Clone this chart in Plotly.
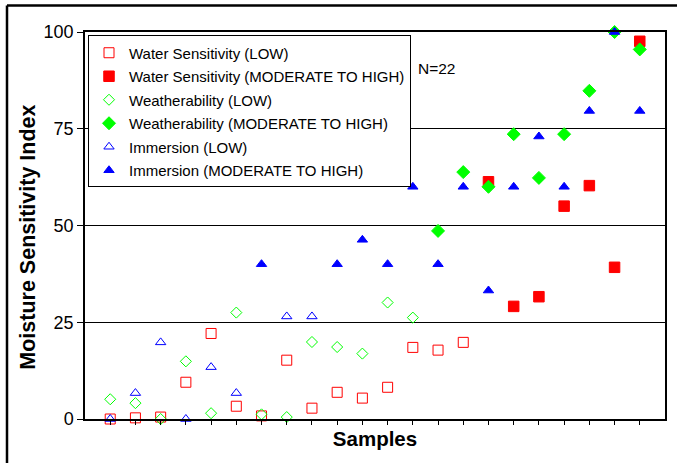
import plotly.graph_objects as go

samples = list(range(1, 23))

# Water Sensitivity values per sample (LOW for samples 1-15, MODERATE TO HIGH for 16-22)
ws_low = [0, 0.3, 0.5, 9.5, 22.1, 3.3, 0.8, 15.2, 2.8, 6.9, 5.4, 8.2, 18.5, 17.8, 19.8,
          None, None, None, None, None, None, None]
ws_high = [None] * 15 + [61.3, 29.1, 31.6, 55.0, 60.3, 39.2, 97.6]

# Weatherability
wx_low = [5.1, 4.1, 0, 14.9, 1.5, 27.5, 1.2, 0.5, 19.9, 18.6, 16.9, 30.1, 26.2,
          None, None, None, None, None, None, None, None, None]
wx_high = [None] * 13 + [48.6, 63.8, 60.0, 73.6, 62.3, 73.6, 84.8, 100, 95.5]

# Immersion
im_low = [0, 6.7, 19.8, 0, 13.4, 6.7, None, 26.5, 26.5, None, None, None, None,
          None, None, None, None, None, None, None, None, None]
im_high = [None, None, None, None, None, None, 40, None, None, 40, 46.3, 40, 60,
           40, 60, 33.2, 60, 73.0, 60, 79.6, 100, 79.6]

y_ticks = [0, 25, 50, 75, 100]

RED, GREEN, BLUE = "#FF0000", "#00FF00", "#0000FF"

series = [
    ("Water Sensitivity (LOW)", ws_low, "square-open", RED, 10),
    ("Water Sensitivity (MODERATE TO HIGH)", ws_high, "square", RED, 10.5),
    ("Weatherability (LOW)", wx_low, "diamond-open", GREEN, 8.5),
    ("Weatherability (MODERATE TO HIGH)", wx_high, "diamond", GREEN, 10),
    ("Immersion (LOW)", im_low, "triangle-up-open", BLUE, 9),
    ("Immersion (MODERATE TO HIGH)", im_high, "triangle-up", BLUE, 9),
]

fig = go.Figure()
for i, (name, vals, sym, col, sz) in enumerate(series):
    fig.add_trace(go.Scatter(
        x=samples, y=vals, mode="markers", name=name, legendgroup=f"g{i}",
        marker=dict(symbol=sym, color=col, size=sz, line=dict(color=col, width=1)),
        cliponaxis=False,
    ))

FONT = "Liberation Sans, Arial, sans-serif"
L, R, T, B = 85, 12, 31.5, 44
W, H = 677, 463
pw, ph = W - L - R, H - T - B

def px_x(p):
    return (p - L) / pw

def px_y(p):
    return (H - B - p) / ph

fig.update_layout(
    width=W, height=H,
    margin=dict(l=L, r=R, t=T, b=B, pad=0),
    paper_bgcolor="white", plot_bgcolor="white",
    font=dict(family=FONT, color="black"),
    showlegend=True,
    legend=dict(
        x=px_x(88), y=px_y(35), xanchor="left", yanchor="top",
        bgcolor="white", bordercolor="black", borderwidth=1,
        font=dict(size=15, family=FONT, color="black"),
        tracegroupgap=1, itemwidth=30,
    ),
    xaxis=dict(
        range=[0, 23], tickvals=samples, showticklabels=False,
        ticks="outside", ticklen=4, tickcolor="black", tickwidth=1,
        showgrid=False, zeroline=False,
        showline=True, linecolor="black", linewidth=1.5, mirror=True,
        title=dict(text="<b>Samples</b>", font=dict(size=20.5, family=FONT), standoff=8),
        automargin=False,
    ),
    yaxis=dict(
        range=[0, 100], tickvals=y_ticks,
        ticks="outside", ticklen=6, tickcolor="black", tickwidth=1,
        tickfont=dict(size=18, family=FONT),
        showgrid=True, gridcolor="black", gridwidth=1, zeroline=False,
        showline=True, linecolor="black", linewidth=1.5, mirror=True,
        automargin=False,
    ),
    annotations=[
        dict(
            text="N=22", xref="paper", yref="paper", x=px_x(416), y=px_y(68),
            xanchor="left", yanchor="middle", showarrow=False,
            font=dict(size=15.5, family=FONT, color="black"),
        ),
        dict(
            text="<b>Moisture Sensitivity Index</b>", xref="paper", yref="paper",
            x=px_x(28), y=px_y(237.5), xanchor="center", yanchor="middle",
            textangle=-90, showarrow=False,
            font=dict(size=21.5, family=FONT, color="black"),
        ),
    ],
    shapes=[
        dict(type="line", xref="paper", yref="paper", x0=px_x(7), x1=px_x(700),
             y0=px_y(5), y1=px_y(5), line=dict(color="black", width=2.5)),
        dict(type="line", xref="paper", yref="paper", x0=px_x(7), x1=px_x(7),
             y0=px_y(5), y1=px_y(480), line=dict(color="black", width=2.5)),
    ],
)

fig.write_html(
    "out.html",
    config={"displayModeBar": False},
    post_script="document.body.style.margin='0';document.body.style.overflow='hidden';",
)
